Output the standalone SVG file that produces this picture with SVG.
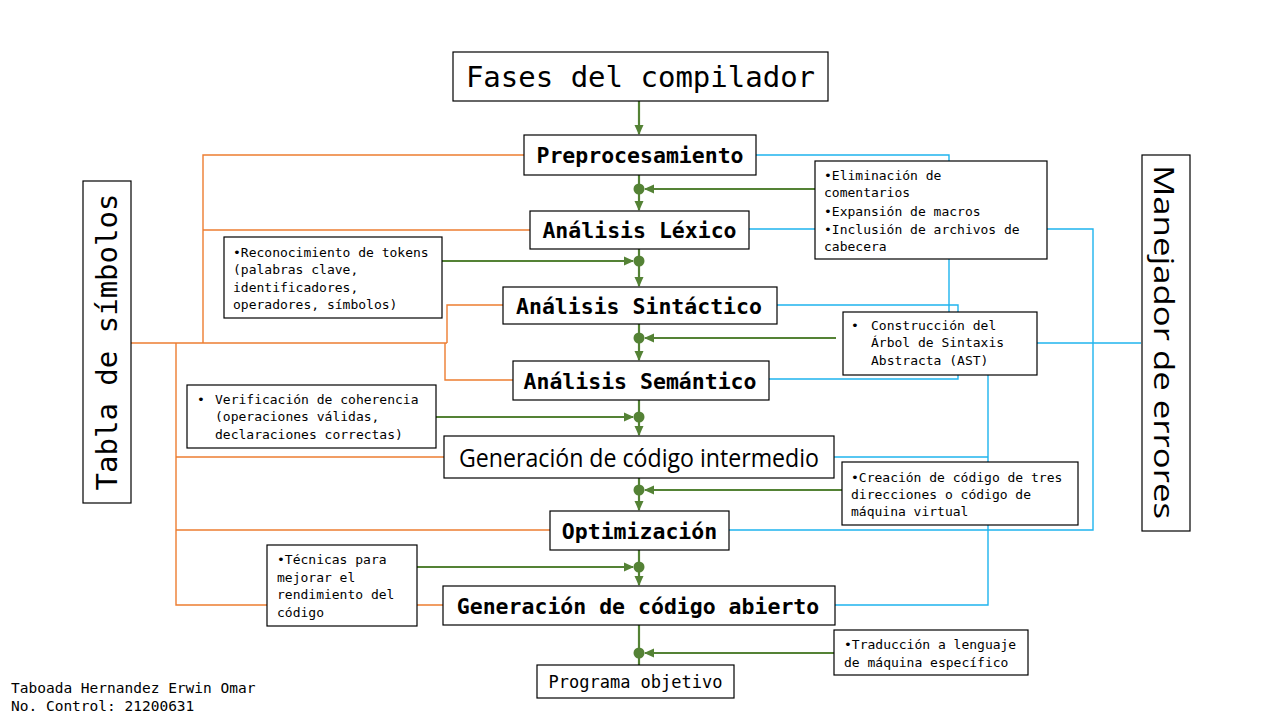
<svg xmlns="http://www.w3.org/2000/svg" width="1280" height="720" viewBox="0 0 1280 720">
<defs>
<marker id="ah" markerUnits="userSpaceOnUse" markerWidth="10" markerHeight="10" viewBox="0 0 10 10" refX="9" refY="5" orient="auto">
<path d="M0,0.5 L10,5 L0,9.5 Z" fill="#548235"/>
</marker>
<style>
.bx{fill:#fff;stroke:#000;stroke-width:1.2}
.g{fill:none;stroke:#548235;stroke-width:2.2}
.o{fill:none;stroke:#ED7D31;stroke-width:1.4}
.b{fill:none;stroke:#1FB4EE;stroke-width:1.4}
.dot{fill:#548235}
.mono{font-family:"DejaVu Sans Mono","Liberation Mono",monospace;fill:#000}
.sm{font-size:13px}
.hd{font-size:21.5px;font-weight:bold}
.c{text-anchor:middle;dominant-baseline:central}
.l{dominant-baseline:central}
</style>
</defs>
<rect width="1280" height="720" fill="#fff"/>
<g id="connectors">
<path class="o" d="M131,343 H447" stroke-width="2"/>
<path class="o" d="M203,343 V155 H524"/>
<path class="o" d="M203,230 H530"/>
<path class="o" d="M447,343 V305 H503"/>
<path class="o" d="M445,343 V380 H513" stroke="#F0883E"/>
<path class="o" d="M176,343 V605 H443" stroke="#F39A5C"/>
<path class="o" d="M176,457 H444" stroke="#F39A5C"/>
<path class="o" d="M176,530 H550" stroke="#F39A5C"/>
<path class="b" d="M756,155 H949 V312"/>
<path class="b" d="M749,229 H1093 V530 H729"/>
<path class="b" d="M777,305 H958 V379 H769"/>
<path class="b" d="M988,375 V605 H835"/>
<path class="b" d="M988,457 H834"/>
<path class="b" d="M1037,343 H1141" stroke-width="2.6" stroke="#00B0F0"/>
<path class="g" d="M639,101 V134" marker-end="url(#ah)"/>
<path class="g" d="M639,175 V210" marker-end="url(#ah)"/>
<path class="g" d="M815,189 H645" marker-end="url(#ah)"/>
<path class="g" d="M639,249 V286" marker-end="url(#ah)"/>
<path class="g" d="M442,261 H633" marker-end="url(#ah)"/>
<path class="g" d="M639,324 V360" marker-end="url(#ah)"/>
<path class="g" d="M836,338 H645" marker-end="url(#ah)"/>
<path class="g" d="M639,400 V435" marker-end="url(#ah)"/>
<path class="g" d="M436,417 H633" marker-end="url(#ah)"/>
<path class="g" d="M639,478 V510" marker-end="url(#ah)"/>
<path class="g" d="M842,490 H645" marker-end="url(#ah)"/>
<path class="g" d="M639,550 V585" marker-end="url(#ah)"/>
<path class="g" d="M417,567 H633" marker-end="url(#ah)"/>
<path class="g" d="M639,625 V665"/>
<path class="g" d="M834,653 H645" marker-end="url(#ah)"/>
<circle class="dot" cx="639" cy="189" r="5.5"/>
<circle class="dot" cx="639" cy="261" r="5.5"/>
<circle class="dot" cx="639" cy="338" r="5.5"/>
<circle class="dot" cx="639" cy="417" r="5.5"/>
<circle class="dot" cx="639" cy="490" r="5.5"/>
<circle class="dot" cx="639" cy="567" r="5.5"/>
<circle class="dot" cx="639" cy="653" r="5.5"/>
</g>
<g id="title">
<rect class="bx" x="453" y="52" width="375" height="49"/>
<text class="mono c" x="640.5" y="77" font-size="29">Fases del compilador</text>
</g>
<g id="preprocesamiento">
<rect class="bx" x="524" y="135" width="232" height="40"/>
<text class="mono hd c" x="640" y="155">Preprocesamiento</text>
</g>
<g id="lexico">
<rect class="bx" x="530" y="211" width="219" height="38"/>
<text class="mono hd c" x="639.5" y="230">Análisis Léxico</text>
</g>
<g id="sintactico">
<rect class="bx" x="503" y="287" width="274" height="37"/>
<text class="mono hd c" x="639" y="306" font-size="22.8">Análisis Sintáctico</text>
</g>
<g id="semantico">
<rect class="bx" x="513" y="361" width="256" height="39"/>
<text class="mono hd c" x="640" y="381">Análisis Semántico</text>
</g>
<g id="intermedio">
<rect class="bx" x="444" y="436" width="390" height="42"/>
<text class="c" x="639" y="457" font-family="'Open Sans','Liberation Sans',sans-serif" font-size="25" textLength="360" lengthAdjust="spacingAndGlyphs">Generación de código intermedio</text>
</g>
<g id="optimizacion">
<rect class="bx" x="550" y="511" width="179" height="39"/>
<text class="mono hd c" x="639.5" y="531">Optimización</text>
</g>
<g id="abierto">
<rect class="bx" x="443" y="586" width="392" height="39"/>
<text class="mono hd c" x="638" y="606">Generación de código abierto</text>
</g>
<g id="programa">
<rect class="bx" x="537" y="665" width="197" height="33"/>
<text class="mono c" x="635.5" y="682" font-size="17">Programa objetivo</text>
</g>
<g id="tabla">
<rect class="bx" x="83" y="181" width="48" height="322"/>
<text class="mono c" x="0" y="0" font-size="29" transform="translate(107,342) rotate(-90)">Tabla de símbolos</text>
</g>
<g id="manejador">
<rect class="bx" x="1142" y="155" width="48" height="376"/>
<text class="c" x="0" y="0" font-family="'Open Sans','DejaVu Sans',sans-serif" font-size="28" textLength="354" lengthAdjust="spacingAndGlyphs" transform="translate(1165,342) rotate(90)">Manejador de errores</text>
</g>
<g id="nota-preprocesamiento">
<rect class="bx" x="815" y="161" width="232" height="98"/>
<text class="mono sm l" x="824" y="175">•Eliminación de</text>
<text class="mono sm l" x="824" y="192.5">comentarios</text>
<text class="mono sm l" x="824" y="211">•Expansión de macros</text>
<text class="mono sm l" x="824" y="229">•Inclusión de archivos de</text>
<text class="mono sm l" x="824" y="246">cabecera</text>
</g>
<g id="nota-lexico">
<rect class="bx" x="224" y="237" width="218" height="81"/>
<text class="mono sm l" x="233" y="252">•Reconocimiento de tokens</text>
<text class="mono sm l" x="233" y="269.5">(palabras clave,</text>
<text class="mono sm l" x="233" y="287">identificadores,</text>
<text class="mono sm l" x="233" y="304.5">operadores, símbolos)</text>
</g>
<g id="nota-sintactico">
<rect class="bx" x="843" y="312" width="194" height="63"/>
<text class="mono sm l" x="851" y="325">•</text>
<text class="mono sm l" x="871" y="325">Construcción del</text>
<text class="mono sm l" x="871" y="342.5">Árbol de Sintaxis</text>
<text class="mono sm l" x="871" y="360">Abstracta (AST)</text>
</g>
<g id="nota-semantico">
<rect class="bx" x="187" y="385" width="249" height="63"/>
<text class="mono sm l" x="197" y="399">•</text>
<text class="mono sm l" x="215" y="399">Verificación de coherencia</text>
<text class="mono sm l" x="215" y="416.5">(operaciones válidas,</text>
<text class="mono sm l" x="215" y="434">declaraciones correctas)</text>
</g>
<g id="nota-intermedio">
<rect class="bx" x="842" y="462" width="236" height="63"/>
<text class="mono sm l" x="851" y="477">•Creación de código de tres</text>
<text class="mono sm l" x="851" y="494">direcciones o código de</text>
<text class="mono sm l" x="851" y="511.5">máquina virtual</text>
</g>
<g id="nota-optimizacion">
<rect class="bx" x="267" y="545" width="150" height="81"/>
<text class="mono sm l" x="277" y="559.5">•Técnicas para</text>
<text class="mono sm l" x="277" y="577">mejorar el</text>
<text class="mono sm l" x="277" y="594.5">rendimiento del</text>
<text class="mono sm l" x="277" y="612">código</text>
</g>
<g id="nota-abierto">
<rect class="bx" x="834" y="630" width="194" height="45"/>
<text class="mono sm l" x="844" y="644.5">•Traducción a lenguaje</text>
<text class="mono sm l" x="844" y="662">de máquina específico</text>
</g>
<g id="autor">
<text class="mono l" x="11" y="688" font-size="14.5">Taboada Hernandez Erwin Omar</text>
<text class="mono l" x="11" y="706" font-size="14.5">No. Control: 21200631</text>
</g>
</svg>
